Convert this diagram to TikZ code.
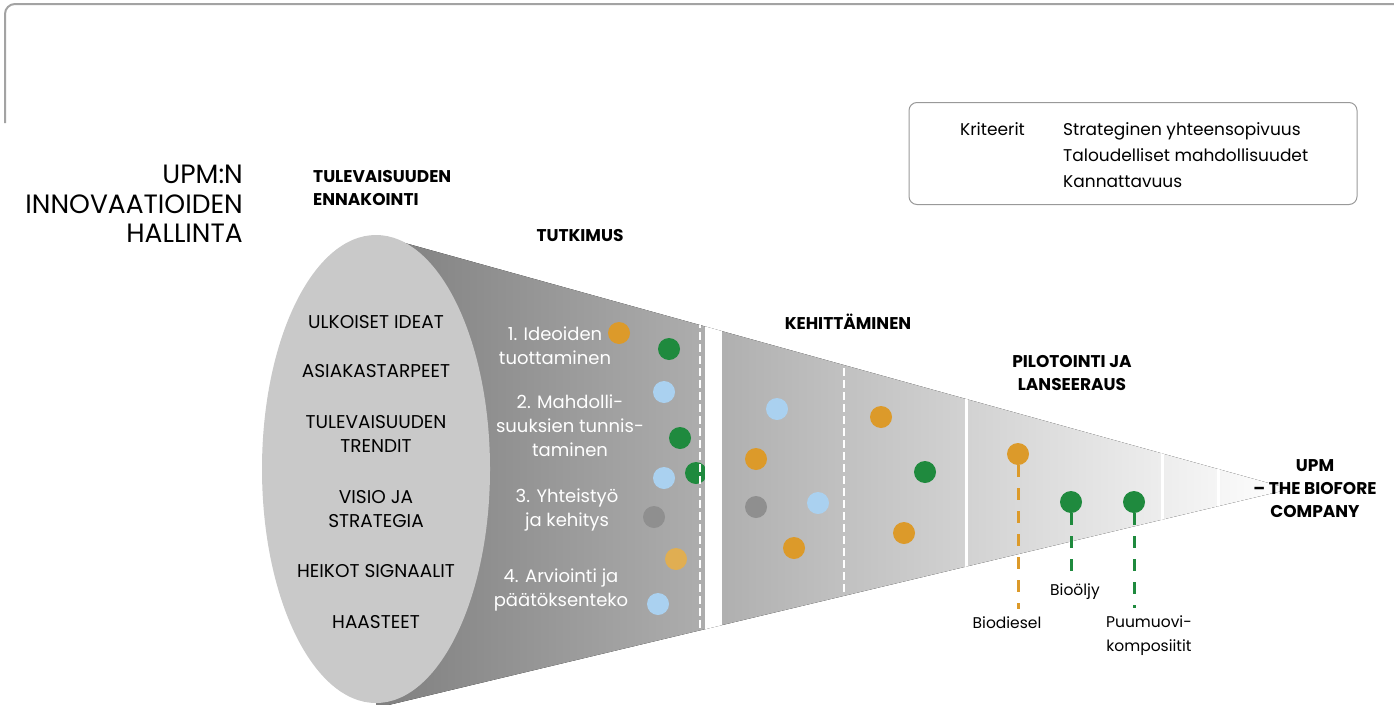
\documentclass[tikz,border=0pt]{standalone}
\usepackage{fontspec}
\setmainfont{Poppins}
\usetikzlibrary{shapes.geometric}

\definecolor{upmorange}{HTML}{DC9A2A}
\definecolor{upmpale}{HTML}{E0AE52}
\definecolor{upmgreen}{HTML}{1F8A3E}
\definecolor{upmblue}{HTML}{AAD1F0}
\definecolor{upmgrey}{HTML}{8F8F8F}

\begin{document}
\begin{tikzpicture}[
    x=1pt, y=-1pt,
    title/.style={font=\fontsize{26.5}{30}\selectfont, anchor=base east, inner sep=0pt},
    head/.style={font=\bfseries\fontsize{17}{23}\selectfont, align=center, inner sep=1pt},
    theme/.style={font=\fontsize{18.5}{24}\selectfont, align=center, inner sep=1pt},
    stage/.style={font=\fontsize{18}{24}\selectfont, text=white, align=center, inner sep=1pt},
    dot/.style={circle, inner sep=0pt, minimum size=22pt},
    product/.style={font=\fontsize{15.5}{24}\selectfont, align=center, inner sep=2pt},
    stem/.style={line width=3pt, dash pattern=on 12pt off 11pt},
    cut/.style={white, line width=2.5pt, dash pattern=on 8pt off 4pt},
    gap/.style={white, line width=#1},
    crit/.style={font=\fontsize{17}{26}\selectfont, anchor=base west, inner sep=0pt}
]
\useasboundingbox (0,0) rectangle (1394,704);

%% Frame at the top left
\draw[black!36, line width=2pt, rounded corners=10pt] (5,123) -- (5,4) -- (1400,4);

%% Funnel
\coordinate (ftop) at (376,235);
\coordinate (fbot) at (376,708);
\coordinate (ftip) at (1290,489);
\fill[left color=black!50, right color=white] (ftop) -- (ftip) -- (fbot) -- cycle;
\node[ellipse, fill=black!21, minimum width=228pt, minimum height=468pt, inner sep=0pt]
    (front) at (376,469) {};

%% Ideas moving through the funnel
\node[dot, fill=upmorange] (d1)  at (619,333) {};
\node[dot, fill=upmgreen]  (d2)  at (669,349) {};
\node[dot, fill=upmblue]   (d3)  at (664,392) {};
\node[dot, fill=upmgreen]  (d4)  at (680,438) {};
\node[dot, fill=upmblue]   (d5)  at (664,478) {};
\node[dot, fill=upmgreen]  (d6)  at (696,473) {};
\node[dot, fill=upmgrey]   (d7)  at (654,517) {};
\node[dot, fill=upmpale]   (d8)  at (676,559) {};
\node[dot, fill=upmblue]   (d9)  at (658,604) {};
\node[dot, fill=upmblue]   (d10) at (777,409) {};
\node[dot, fill=upmorange] (d11) at (756,459) {};
\node[dot, fill=upmgrey]   (d12) at (756,507) {};
\node[dot, fill=upmblue]   (d13) at (818,503) {};
\node[dot, fill=upmorange] (d14) at (794,548) {};
\node[dot, fill=upmorange] (d15) at (881,417) {};
\node[dot, fill=upmgreen]  (d16) at (925,472) {};
\node[dot, fill=upmorange] (d17) at (904,533) {};

%% Segment borders
\begin{scope}
    \clip (ftop) -- (ftip) -- (fbot) -- cycle;
    \draw[gap=17pt] (713.5,200) -- (713.5,720);
    \draw[gap=3pt]  (966.5,200) -- (966.5,720);
    \draw[gap=3pt]  (1162.5,200) -- (1162.5,720);
    \draw[gap=3pt]  (1218,200) -- (1218,720);
    \draw[cut] (700,200) -- (700,720);
    \draw[cut] (844,200) -- (844,720);
\end{scope}

%% Launched products
\node[dot, fill=upmorange] (p1) at (1018,454) {};
\node[dot, fill=upmgreen]  (p2) at (1071,502) {};
\node[dot, fill=upmgreen]  (p3) at (1134,502) {};
\node[product] (lab1) at (1007,623) {Biodiesel};
\node[product] (lab2) at (1075,592) {Bioöljy};
\node[product] (lab3) at (1149,636) {Puumuovi-\\komposiitit};
\draw[stem, upmorange, shorten >=6pt] (p1.south) -- (p1.south |- lab1.north);
\draw[stem, upmgreen, shorten >=6pt]  (p2.south) -- (p2.south |- lab2.north);
\draw[stem, upmgreen, shorten >=6pt]  (p3.south) -- (p3.south |- lab3.north);

%% Title
\node[title] (t1) at (243,183) {UPM:N};
\node[title] (t2) at (243,213) {INNOVAATIOIDEN};
\node[title] (t3) at (243,242) {HALLINTA};

%% Stage headings
\node[head, align=left, anchor=west] (h1) at (312,188) {TULEVAISUUDEN\\ENNAKOINTI};
\node[head] (h2) at (580,236) {TUTKIMUS};
\node[head] (h3) at (848,322) {KEHITTÄMINEN};
\node[head] (h4) at (1072,373) {PILOTOINTI JA\\LANSEERAUS};
\node[head] (h5) at (1315,489) {UPM\\– THE BIOFORE\\COMPANY};

%% Sources of ideas
\node[theme] (s1) at (376,322) {ULKOISET IDEAT};
\node[theme] (s2) at (376,371) {ASIAKASTARPEET};
\node[theme] (s3) at (376,434) {TULEVAISUUDEN\\TRENDIT};
\node[theme] (s4) at (376,509) {VISIO JA\\STRATEGIA};
\node[theme] (s5) at (376,571) {HEIKOT SIGNAALIT};
\node[theme] (s6) at (376,622) {HAASTEET};

%% Research steps
\node[stage] (r1) at (555,346) {1. Ideoiden\\tuottaminen};
\node[stage] (r2) at (570,426) {2. Mahdolli-\\suuksien tunnis-\\taminen};
\node[stage] (r3) at (567,510) {3. Yhteistyö\\ja kehitys};
\node[stage] (r4) at (561,590) {4. Arviointi ja\\päätöksenteko};

%% Criteria box
\node[draw=black!40, line width=1pt, rounded corners=8pt,
      minimum width=448pt, minimum height=102pt, inner sep=0pt] (critbox) at (1133,153.5) {};
\node[crit] (c0) at (960,135) {Kriteerit};
\node[crit] (c1) at (1063,135) {Strateginen yhteensopivuus};
\node[crit] (c2) at (1063,161) {Taloudelliset mahdollisuudet};
\node[crit] (c3) at (1063,187) {Kannattavuus};

\end{tikzpicture}
\end{document}
